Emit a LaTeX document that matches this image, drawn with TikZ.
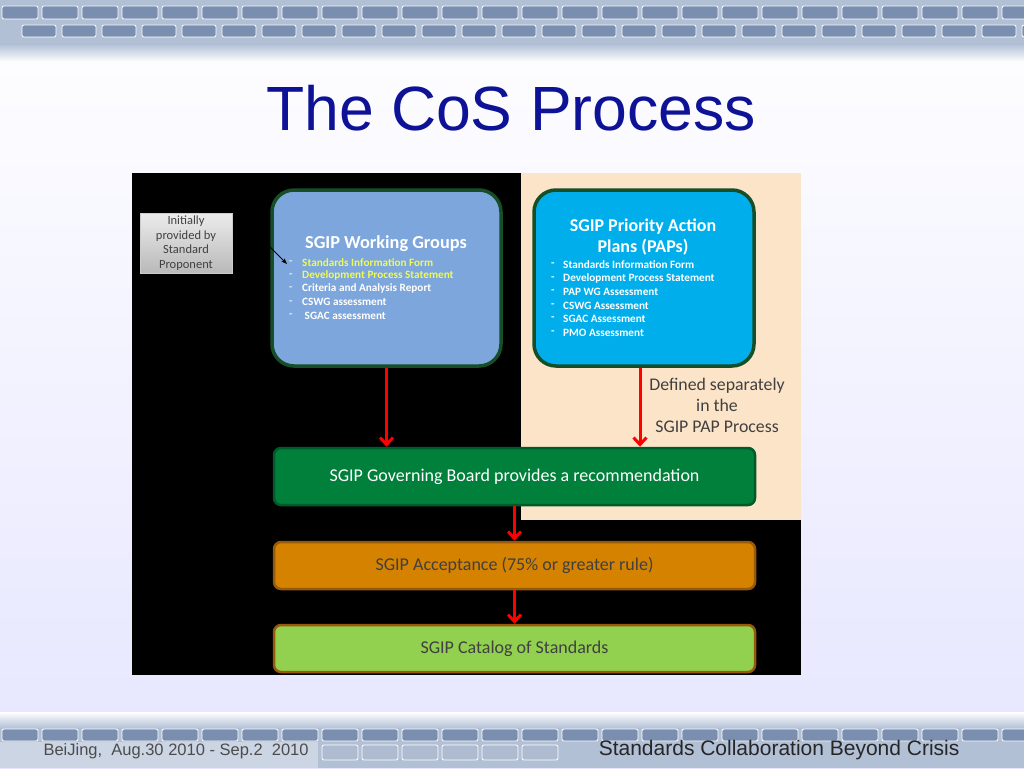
\documentclass[tikz,border=0pt]{standalone}
\usepackage{fontspec}
\usepackage{tikz}
\usetikzlibrary{arrows.meta}
\setmainfont{Carlito}
\newfontfamily\arialfont{Liberation Sans}

\definecolor{titleblue}{RGB}{14,18,150}
\definecolor{bandblue}{RGB}{178,192,214}
\definecolor{brickblue}{RGB}{122,142,176}
\definecolor{peach}{RGB}{252,228,200}
\definecolor{wgblue}{RGB}{124,166,220}
\definecolor{papblue}{RGB}{0,174,236}
\definecolor{frame}{RGB}{22,78,40}
\definecolor{gbgreen}{RGB}{0,128,58}
\definecolor{accorange}{RGB}{212,130,0}
\definecolor{accedge}{RGB}{150,90,10}
\definecolor{catgreen}{RGB}{146,208,80}
\definecolor{hiyellow}{RGB}{240,250,90}

\begin{document}
\begin{tikzpicture}[x=1pt,y=-1pt,
    bigbox/.style={rounded corners=22pt, draw=frame, line width=3.5pt, minimum width=229pt, minimum height=176pt},
    stepbox/.style={rounded corners=7pt, line width=2.5pt, minimum width=481pt, inner sep=0pt, font=\fontsize{18}{21}\selectfont},
    item/.style={anchor=west, inner sep=0pt, font=\fontsize{11.2}{13}\selectfont\bfseries, text=white},
    brick/.style={draw=white, fill=brickblue, line width=.8pt, rounded corners=2pt},
    redarrow/.style={draw=red, line width=3pt, -{Straight Barb[length=7pt,width=13pt]}}]
    \useasboundingbox (0,0) rectangle (1024,768);
    % Background
    \shade[top color=white, bottom color=blue!10] (0,0) rectangle (1024,768);
    % Top band
    \fill[bandblue] (0,0) rectangle (1024,44);
    \shade[top color=bandblue, bottom color=white] (0,44) rectangle (1024,62);
    \foreach \i in {0,...,25} {
        \draw[brick] (\i*40+2,6) rectangle (\i*40+38,19);
        \draw[brick] (\i*40+22,25) rectangle (\i*40+56,37);
    }
    % Bottom band
    \shade[top color=white, bottom color=bandblue] (0,712) rectangle (1024,728);
    \fill[bandblue] (0,728) rectangle (1024,768);
    \foreach \i in {0,...,25} {
        \draw[brick] (\i*40+2,729) rectangle (\i*40+38,741);
    }
    \foreach \i in {8,...,13} {
        \draw[brick, fill=brickblue!60!white] (\i*40+2,745) rectangle (\i*40+38,760);
    }
    \fill[white, opacity=.35] (0,742) rectangle (318,768);
    \node[font=\arialfont\fontsize{16.5}{18}\selectfont, text=black!70, anchor=west] (place) at (40,751) {BeiJing,\ \ Aug.30 2010 - Sep.2\ \ 2010};
    \node[font=\arialfont\fontsize{21}{23}\selectfont, text=black!85, anchor=east] (motto) at (963,750) {Standards Collaboration Beyond Crisis};
    % Title
    \node[font=\arialfont\fontsize{62.5}{66}\selectfont, text=titleblue] (title) at (511,108) {The CoS Process};
    % Panel
    \fill[black] (132,173) rectangle (801,675);
    \fill[peach] (521,173) rectangle (801,520);
    % Gray note
    \node[top color=gray!15, bottom color=gray!55, draw=gray!40, minimum width=92pt, minimum height=60pt, inner sep=0pt,
        align=center, font=\fontsize{12.5}{14.5}\selectfont, text=black!75] (note) at (186,243) {Initially\\provided by\\Standard\\Proponent};
    % Working Groups
    \node[bigbox, fill=wgblue] (WG) at (386.5,278) {};
    \node[font=\fontsize{18.3}{21}\selectfont\bfseries, text=white] (WG-title) at (386,244) {SGIP Working Groups};
    \foreach \name/\i in {Standards Information Form/1,Development Process Statement/2,Criteria and Analysis Report/3,CSWG assessment/4,\ SGAC assessment/5} {
        \ifnum \i<3
            \node[item, text=hiyellow] (WG-\i) at (302,249+13.3*\i) {\name};
        \else
            \node[item] (WG-\i) at (302,249+13.3*\i) {\name};
        \fi
        \node[item, text=white!80!wgblue] at (289,249+13.3*\i) {-};
    }
    % Priority Action Plans
    \node[bigbox, fill=papblue, minimum width=220pt] (PAP) at (644,278) {};
    \node[font=\fontsize{18}{21}\selectfont\bfseries, text=white, align=center] (PAP-title) at (643,237) {SGIP Priority Action\\Plans (PAPs)};
    \foreach \name/\i in {Standards Information Form/1,Development Process Statement/2,PAP WG Assessment/3,CSWG Assessment/4,SGAC Assessment/5,PMO Assessment/6} {
        \node[item] (PAP-\i) at (563,251.5+13.5*\i) {\name};
        \node[item] at (551,251.5+13.5*\i) {-};
    }
    \node[align=center, font=\fontsize{17.8}{21}\selectfont, text=black!75] (sep) at (717,405) {Defined separately\\in the\\SGIP PAP Process};
    % Steps
    \node[stepbox, fill=gbgreen, draw=gbgreen!70!black, minimum height=57pt, text=white] (GB) at (514.5,476.5) {SGIP Governing Board provides a recommendation};
    \node[stepbox, fill=accorange, draw=accedge, minimum height=47pt, text=black!75] (Accept) at (514.5,565.5) {SGIP Acceptance (75\% or greater rule)};
    \node[stepbox, fill=catgreen, draw=accedge, minimum height=47pt, text=black!75] (Catalog) at (514.5,648.5) {SGIP Catalog of Standards};
    % Arrows
    \coordinate (n1) at (268,245);
    \coordinate (n2) at (287,264);
    \draw[-{Stealth[length=6pt]}, line width=.8pt] (n1) -- (n2);
    \draw[redarrow] (WG.south) -- (GB.north -| WG.south);
    \draw[redarrow] ([xshift=-4pt]PAP.south) -- (GB.north -| 640,0);
    \draw[redarrow] (GB.south) -- (Accept.north);
    \draw[redarrow] (Accept.south) -- (Catalog.north);
\end{tikzpicture}
\end{document}
